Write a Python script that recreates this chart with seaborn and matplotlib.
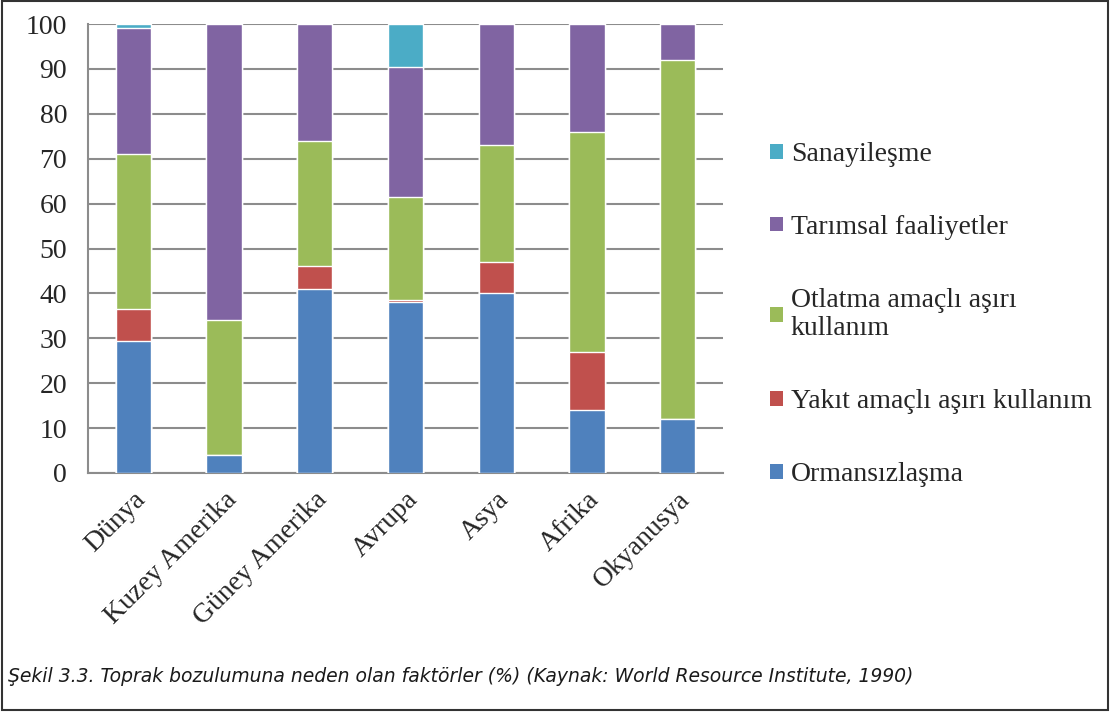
import matplotlib
matplotlib.use("Agg")
import matplotlib.pyplot as plt
from matplotlib.patches import Rectangle, Patch
import numpy as np
import pandas as pd
import seaborn as sns

# Donnees (%)
bolgeler = ["Dünya", "Kuzey Amerika", "Güney Amerika", "Avrupa", "Asya", "Afrika", "Okyanusya"]
ormansizlasma = [29.5, 4, 41, 38, 40, 14, 12]
yakit = [7, 0, 5, 0.5, 7, 13, 0]
otlatma = [34.5, 30, 28, 23, 26, 49, 80]
tarimsal = [28, 66, 26, 29, 27, 24, 8]
sanayi = [1, 0, 0, 9.5, 0, 0, 0]

seriler = ["Ormansızlaşma", "Yakıt amaçlı aşırı kullanım", "Otlatma amaçlı aşırı\nkullanım",
           "Tarımsal faaliyetler", "Sanayileşme"]
renkler = ["#4F81BD", "#C0504D", "#9BBB59", "#8064A2", "#4BACC6"]

df = pd.DataFrame({"Bolge": bolgeler, "s0": ormansizlasma, "s1": yakit, "s2": otlatma,
                   "s3": tarimsal, "s4": sanayi})
# cumuls pour l'empilement
cols = ["s0", "s1", "s2", "s3", "s4"]
cum = df[cols].cumsum(axis=1)

sns.set_style("white")
plt.rcParams["font.family"] = ["Liberation Serif", "DejaVu Serif"]

fig = plt.figure(figsize=(11.1, 7.12), dpi=100)
ax = fig.add_axes([88 / 1110, 1 - 473 / 712, (723 - 88) / 1110, (473 - 24) / 712])

# on dessine du cumul le plus haut vers le plus bas
for i in range(4, -1, -1):
    sns.barplot(x=df["Bolge"], y=cum[cols[i]], color=renkler[i], width=0.39,
                saturation=1, ax=ax, zorder=3)

gris = "#8c8c8c"
ax.set_ylim(0, 100)
ax.set_xlim(-0.5, 6.5)
ax.set_yticks(range(0, 101, 10))
ax.yaxis.grid(True, color=gris, linewidth=1.5, zorder=0)
ax.set_axisbelow(True)
ax.set_xlabel("")
ax.set_ylabel("")
for s in ["top", "right"]:
    ax.spines[s].set_visible(False)
for s in ["left", "bottom"]:
    ax.spines[s].set_color(gris)
    ax.spines[s].set_linewidth(1.5)

ax.tick_params(axis="y", length=6, width=1.5, color=gris, labelsize=20, pad=9)
ax.set_xticks(np.arange(-0.5, 7, 1), minor=True)
ax.tick_params(axis="x", which="minor", length=5, width=1.5, color=gris)
ax.tick_params(axis="x", which="major", length=0, labelsize=20, pad=10)
ax.set_xticks(range(7))
ax.set_xticklabels(bolgeler, rotation=45, ha="right", rotation_mode="anchor")

# legende (ordre inverse, comme Excel)
handles = [Patch(facecolor=renkler[i], edgecolor="none") for i in range(4, -1, -1)]
labels = [seriler[i] for i in range(4, -1, -1)]
fig.legend(handles, labels, loc="upper left", bbox_to_anchor=(759 / 1110, 1 - 131 / 712),
           frameon=False, fontsize=20, handlelength=0.45, handleheight=0.45,
           handletextpad=0.3, labelspacing=1.72, borderaxespad=0)

fig.text(8 / 1110, 1 - 676 / 712,
         "Şekil 3.3. Toprak bozulumuna neden olan faktörler (%) (Kaynak: World Resource Institute, 1990)",
         family=["DejaVu Sans"], style="italic", fontsize=13.5,
         va="center", ha="left", color="#1a1a1a")

# cadre autour de la figure
fig.patches.append(Rectangle((0.002, 0.003), 0.996, 0.995, transform=fig.transFigure,
                             fill=False, edgecolor="#333333", linewidth=1.5))

fig.savefig("out.png", dpi=100)
